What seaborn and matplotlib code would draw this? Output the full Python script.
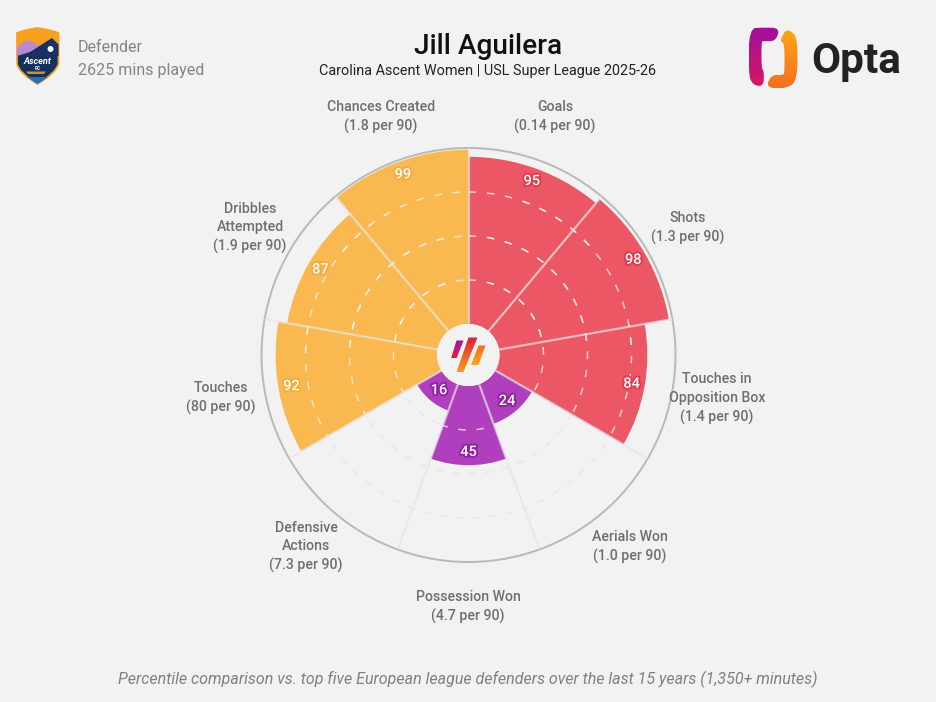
import matplotlib
matplotlib.use("Agg")
import matplotlib.pyplot as plt
import matplotlib.patheffects as pe
from matplotlib.patches import Circle, PathPatch, Polygon
from matplotlib.path import Path
from matplotlib.colors import LinearSegmentedColormap
import numpy as np
import pandas as pd
import seaborn as sns

metrics = ["Goals", "Shots", "Touches in\nOpposition Box", "Aerials Won", "Possession Won",
           "Defensive\nActions", "Touches", "Dribbles\nAttempted", "Chances Created"]
per90 = ["0.14", "1.3", "1.4", "1.0", "4.7", "7.3", "80", "1.9", "1.8"]
percentile = [95, 98, 84, 24, 45, 16, 92, 87, 99]
groups = ["attack", "attack", "attack", "defence", "defence", "defence", "play", "play", "play"]
rings = [25, 50, 75]

palette = {"attack": "#EC5766", "defence": "#B03FBE", "play": "#F9B950"}
edge = {"attack": "#E23A4E", "defence": "#9420A8", "play": "#F7AC40"}
BG = "#F2F2F2"
W, H = 936, 702
CX, CY, R, HOLE = 468.5, 355, 207, 31

sns.set_theme(style="white")
plt.rcParams["font.family"] = ["Roboto", "DejaVu Sans"]

fig = plt.figure(figsize=(W / 100, H / 100), dpi=100, facecolor=BG)
ax = fig.add_axes([(CX - R) / W, 1 - (CY + R) / H, 2 * R / W, 2 * R / H], projection="polar", facecolor=BG)
ax.set_theta_zero_location("N")
ax.set_theta_direction(-1)

df = pd.DataFrame({"theta": np.deg2rad(20 + 40 * np.arange(len(metrics))), "pct": percentile, "group": groups})
sns.barplot(data=df, x="theta", y="pct", hue="group", palette=palette, native_scale=True,
            dodge=False, width=1, gap=0, linewidth=0, saturation=1, legend=False, ax=ax)

ax.set_xlim(0, 2 * np.pi)
ax.set_ylim(0, 100)
ax.set_rorigin(-100 * HOLE / (R - HOLE))
ax.set_xlabel("")
ax.set_ylabel("")
ax.set_xticks([])
ax.set_yticks([])
ax.grid(False)
ax.spines["polar"].set_color("#B9B9B9")
ax.spines["polar"].set_linewidth(1.4)
# polar draw turns this spine back on, so hide it by width
ax.spines["inner"].set_linewidth(0)

ring_theta = np.linspace(0, 2 * np.pi, 400)
for ring in rings:
    ax.plot(ring_theta, np.full(400, ring), color="#E7E7E7", lw=1, ls=(0, (5, 7)), zorder=0.5)
    for bar in list(ax.patches):
        if bar.get_height() > ring:
            line, = ax.plot(ring_theta, np.full(400, ring), color="#F6F0EE", alpha=0.75, lw=1.1, ls=(0, (5, 7)), zorder=3)
            line.set_clip_path(bar)

ax.vlines(np.deg2rad(40 * np.arange(9)), 0, 100, color="#E6E6E6", alpha=0.68, lw=1.6, zorder=4)

for i, v in enumerate(percentile):
    ax.text(df["theta"][i], v - 7.5, str(v), color="white", fontsize=10.5, fontweight="medium", ha="center", va="center",
            zorder=6, path_effects=[pe.withStroke(linewidth=2.8, foreground=edge[groups[i]])])

# overlay in pixel coordinates for the header, labels and logos
ov = fig.add_axes([0, 0, 1, 1], facecolor="none")
ov.set_xlim(0, W)
ov.set_ylim(H, 0)
ov.axis("off")

label_pos = [(555, 117), (688, 228), (717, 398.5), (630, 547), (468, 607),
             (306, 547), (221, 398), (250, 228), (381, 117)]
for (x, y), name, p in zip(label_pos, metrics, per90):
    ov.text(x, y, f"{name}\n({p} per 90)", color="#6F6F6F", fontsize=10.2, fontweight="medium",
            ha="center", va="center", linespacing=1.42)

ov.text(488, 46.5, "Jill Aguilera", color="#111111", fontsize=20.2, fontweight="medium", ha="center", va="center")
ov.text(488, 71, "Carolina Ascent Women | USL Super League 2025-26", color="#222222", fontsize=10.4,
        ha="center", va="center")
ov.text(78, 47, "Defender", color="#858585", fontsize=11.55, ha="left", va="center")
ov.text(78, 70, "2625 mins played", color="#858585", fontsize=11.55, ha="left", va="center")
ov.text(468, 679, "Percentile comparison vs. top five European league defenders over the last 15 years (1,350+ minutes)",
        color="#808080", fontsize=11.56, style="italic", ha="center", va="center")
ov.text(811, 61, "Opta", color="#222222", fontsize=30.5, fontweight="bold", ha="left", va="center")


def gradient(verts, c1, c2, z=8):
    # vertical gradient clipped to a polygon
    verts = np.array(verts, float)
    x0, y0 = verts.min(axis=0)
    x1, y1 = verts.max(axis=0)
    cmap = LinearSegmentedColormap.from_list("g", [c1, c2])
    im = ov.imshow(np.linspace(0, 1, 64).reshape(-1, 1), cmap=cmap, extent=(x0, x1, y1, y0), aspect="auto", zorder=z)
    im.set_clip_path(Polygon(verts, closed=True, transform=ov.transData))


def rounded(points, passes=3):
    # corner smoothing for the logo outlines
    pts = np.array(points, float)
    for _ in range(passes):
        nxt = np.roll(pts, -1, axis=0)
        pts = np.column_stack([0.75 * pts + 0.25 * nxt, 0.25 * pts + 0.75 * nxt]).reshape(-1, 2)
    return pts


# centre disc and mark
ov.add_patch(Circle((468, 355), HOLE, fc=BG, ec="none", zorder=7))
gradient([(456.5, 340.5), (463.5, 340.5), (456.5, 358.5), (451, 358.5)], "#A0189E", "#E0203A")
gradient([(468.5, 337.5), (477.5, 337.5), (463.5, 372), (456.5, 372)], "#D8203C", "#FF9A1A")
gradient([(478.5, 345.5), (485.5, 345.5), (478.5, 365), (471, 365)], "#F56A20", "#FFAA18")

# Opta mark
left = [(780, 28), (763, 27.5), (749, 28.5), (748.5, 75), (753, 85), (763.5, 86.5), (764, 71.5), (761.5, 68),
        (761.5, 42), (763, 41), (775.5, 41.5)]
right = [(785, 30), (791, 31), (797.5, 38), (797.5, 80), (787, 88.5), (766, 88), (771, 75), (783, 75),
         (784.5, 73), (784.5, 43), (780, 41.5)]
gradient(rounded(left, 2), "#A0109E", "#D81660")
gradient(rounded(right, 2), "#FFA418", "#F4701E")

# club badge
shield = Path([(17, 33), (25, 29.5), (37.5, 28), (50, 29.5), (58.5, 33), (58.5, 64), (56, 73), (37.5, 84), (19, 73), (17, 64), (17, 33)],
              [Path.MOVETO, Path.CURVE3, Path.CURVE3, Path.CURVE3, Path.CURVE3, Path.LINETO, Path.CURVE3, Path.CURVE3, Path.CURVE3, Path.CURVE3, Path.CLOSEPOLY])
ov.add_patch(PathPatch(shield, fc="#15305F", ec="#F2A62C", lw=1.3, zorder=8))
for verts, col in [([(17, 28), (59, 28), (59, 52), (17, 52)], "#F5A11E"),
                   ([(17, 47), (27, 40), (37, 44), (45, 50), (40, 56), (17, 56)], "#B98AD2"),
                   ([(17, 56), (30, 52), (52, 38), (59, 45), (59, 56)], "#1B2F63"),
                   ([(22, 77), (53, 77), (40, 84), (33, 84)], "#2A6FB5"),
                   ([(26, 71.5), (46, 71.5), (44, 74), (28, 74)], "#C9922E")]:
    p = Polygon(verts, closed=True, fc=col, ec="none", zorder=8.2)
    ov.add_patch(p)
    p.set_clip_path(shield, ov.transData)
ov.add_patch(Circle((37, 43), 5.5, fc="#FFD34D", ec="none", zorder=8.1))
ov.add_patch(Circle((50.5, 49), 3, fc="white", ec="none", zorder=8.4))
ov.text(37.5, 61.5, "Ascent", color="white", fontsize=6.6, fontweight="bold", style="italic", ha="center", va="center", zorder=9)
ov.text(37.5, 68.5, "FC", color="white", fontsize=3.6, fontweight="bold", ha="center", va="center", zorder=9)

ov.set_xlim(0, W)
ov.set_ylim(H, 0)
fig.savefig("out.png", dpi=100, facecolor=BG)
plt.close(fig)
